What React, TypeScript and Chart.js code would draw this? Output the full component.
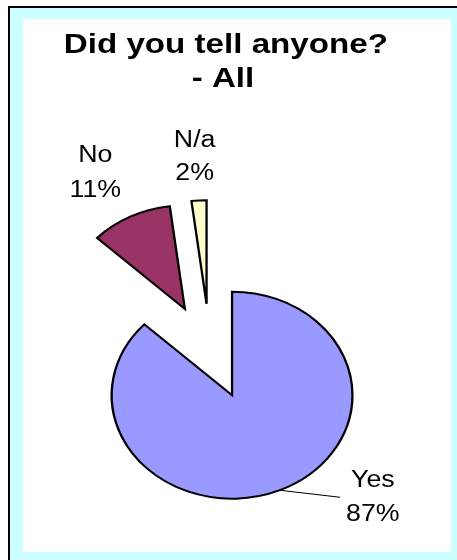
import React, { useEffect, useRef } from 'react';
import { Chart, registerables } from 'chart.js';

Chart.register(...registerables);

// ---- data ----
const categories = ['Yes', 'No', 'N/a'];
const percentages = [87, 11, 2];
const percentLabels = ['87%', '11%', '2%'];
const titleLines = ['Did you tell anyone?', '- All'];

// ---- styles / layout ----
const COLORS = ['#9999FF', '#993366', '#FFFFCC'];
const W = 457;
const H = 560;
const SX = 1.163; // horizontal stretch of the original chart
const RADIUS = 103.5;
const EXPLODE = 47.7;
const CENTER_X = 180.6;
const CENTER_Y = 351.4;
const LABEL_POS = [
  { x: 320.6, y1: 486.7, y2: 521 },
  { x: 82, y1: 161.7, y2: 196.7 },
  { x: 167.4, y1: 146.7, y2: 180 },
];
const LEADER_END = { x: 292.3, y: 497.3 };
const FONT = '"Liberation Sans", Arial, Helvetica, sans-serif';

const stretchPlugin = {
  id: 'stretchPie',
  beforeDraw(chart: any) {
    chart.ctx.save();
    chart.ctx.scale(SX, 1);
  },
  beforeDatasetsDraw(chart: any) {
    const meta = chart.getDatasetMeta(0);
    const a = chart.chartArea;
    const cx = (a.left + a.right) / 2;
    const cy = (a.top + a.bottom) / 2;
    meta.data.forEach((el: any) => {
      const mid = (el.startAngle + el.endAngle) / 2;
      el.x = cx + Math.cos(mid) * EXPLODE;
      el.y = cy + Math.sin(mid) * EXPLODE;
      el.outerRadius = RADIUS;
    });
  },
  afterDraw(chart: any) {
    const ctx = chart.ctx;
    const meta = chart.getDatasetMeta(0);
    ctx.fillStyle = '#000';
    ctx.textAlign = 'center';
    ctx.textBaseline = 'alphabetic';
    ctx.font = `bold 28.5px ${FONT}`;
    ctx.fillText(titleLines[0], 194.2, 53.3);
    ctx.fillText(titleLines[1], 191.7, 87.3);

    ctx.font = `23px ${FONT}`;
    categories.forEach((c, i) => {
      const p = LABEL_POS[i];
      ctx.fillText(c, p.x, p.y1);
      ctx.fillText(percentLabels[i], p.x, p.y2);
    });

    // leader line for the first slice
    const el = meta.data[0];
    if (el) {
      const mid = (el.startAngle + el.endAngle) / 2;
      const sx = el.x + Math.cos(mid) * RADIUS;
      const sy = el.y + Math.sin(mid) * RADIUS;
      ctx.beginPath();
      ctx.strokeStyle = '#000';
      ctx.lineWidth = 1;
      ctx.moveTo(sx, sy);
      ctx.lineTo(LEADER_END.x, LEADER_END.y);
      ctx.stroke();
    }
    ctx.restore();
  },
};

export default function App() {
  const ref = useRef<HTMLCanvasElement | null>(null);
  useEffect(() => {
    if (!ref.current) return;
    const chart = new Chart(ref.current, {
      type: 'pie',
      data: {
        labels: categories,
        datasets: [
          {
            data: percentages,
            backgroundColor: COLORS,
            borderColor: '#000',
            borderWidth: 2,
            borderJoinStyle: 'miter',
            radius: RADIUS,
            clip: false,
          } as any,
        ],
      },
      options: {
        responsive: false,
        animation: false,
        devicePixelRatio: 1,
        events: [],
        layout: {
          padding: {
            left: 0,
            right: W - 2 * CENTER_X,
            top: CENTER_Y - (H - CENTER_Y),
            bottom: 0,
          },
        },
        plugins: {
          legend: { display: false },
          tooltip: { enabled: false },
          title: { display: false },
        },
      },
      plugins: [stretchPlugin],
    });
    return () => chart.destroy();
  }, []);

  return (
    <div style={{ position: 'absolute', left: 0, top: 0, width: W, height: H, background: '#fff', overflow: 'hidden' }}>
      <div
        style={{
          position: 'absolute',
          left: 8,
          top: 6,
          width: W - 8,
          height: H - 6,
          boxSizing: 'border-box',
          borderTop: '2px solid #000',
          borderLeft: '2px solid #000',
          background: '#CCFFFF',
        }}
      />
      <div style={{ position: 'absolute', left: 23, top: 19, width: 428, height: 533, background: '#fff' }} />
      <canvas ref={ref} width={W} height={H} style={{ position: 'absolute', left: 0, top: 0 }} />
    </div>
  );
}
